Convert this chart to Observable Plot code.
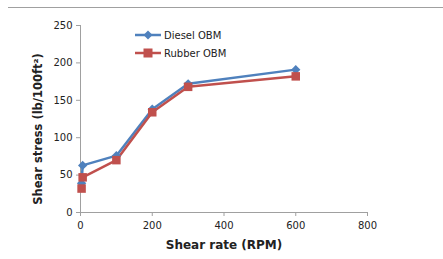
<!DOCTYPE html>
<html><head><meta charset="utf-8">
<script src="https://cdn.jsdelivr.net/npm/d3@7"></script>
<script src="https://cdn.jsdelivr.net/npm/@observablehq/plot@0.6"></script>
<style>
body{margin:0;background:#fff;}
#wrap{position:relative;width:443px;height:259px;overflow:hidden;}
#topline{position:absolute;left:8px;right:0;top:7px;height:0;border-top:1px solid #a0a0a0;}
svg{font-family:"DejaVu Sans",sans-serif;}
g[aria-label^="x-axis"] text, g[aria-label^="y-axis"] text{fill:#222;}
g[aria-label^="x-axis"] line, g[aria-label^="y-axis"] line, g[aria-label^="x-axis"] path, g[aria-label^="y-axis"] path{stroke:#a0a0a0;}
</style></head>
<body><div id="wrap"><div id="topline"></div></div>
<script>
const rpm = [3, 6, 100, 200, 300, 600];
const diesel = [39, 63, 76, 138, 172, 191];
const rubber = [32, 47, 70, 134, 168, 182];
const seriesNames = ["Diesel OBM", "Rubber OBM"];
const seriesColors = ["#4F81BD", "#C0504D"];
const seriesSymbols = ["diamond2", "square"];
const xTicks = [0, 200, 400, 600, 800];
const yTicks = [0, 50, 100, 150, 200, 250];
const xTitle = "Shear rate (RPM)";
const yTitle = "Shear stress (lb/100ft²)";

const rows = [];
[diesel, rubber].forEach((vals, s) => vals.forEach((v, i) => rows.push({series: seriesNames[s], rpm: rpm[i], value: v})));

function legend(index, scales, values, dim) {
  const g = d3.create("svg:g");
  const x0 = dim.marginLeft + 55, x1 = dim.marginLeft + 81;
  seriesNames.forEach((name, i) => {
    const y = dim.marginTop + 10 + i * 18;
    g.append("line").attr("x1", x0).attr("x2", x1).attr("y1", y).attr("y2", y)
      .attr("stroke", seriesColors[i]).attr("stroke-width", 2.5);
    const cx = (x0 + x1) / 2;
    if (i === 0) {
      g.append("path").attr("d", `M${cx},${y-4.5}L${cx+4.5},${y}L${cx},${y+4.5}L${cx-4.5},${y}Z`).attr("fill", seriesColors[i]);
    } else {
      g.append("rect").attr("x", cx - 4.5).attr("y", y - 4.5).attr("width", 9).attr("height", 9).attr("fill", seriesColors[i]);
    }
    g.append("text").attr("x", x1 + 3).attr("y", y).attr("dy", "0.35em")
      .attr("text-anchor", "start")
      .attr("font-size", 10).attr("fill", "#222").text(name);
  });
  return g.node();
}

const chart = Plot.plot({
  width: 443, height: 259,
  marginLeft: 80, marginRight: 76, marginTop: 25, marginBottom: 47,
  style: {fontSize: "10px", fontFamily: "DejaVu Sans, sans-serif", color: "#222", background: "transparent"},
  x: {domain: [0, 800], ticks: xTicks, tickSize: 4, tickPadding: 5, label: null},
  y: {domain: [0, 250], ticks: yTicks, tickSize: 4, tickPadding: 4, label: null},
  color: {domain: seriesNames, range: seriesColors},
  symbol: {domain: seriesNames, range: seriesSymbols},
  marks: [
    Plot.ruleX([0], {stroke: "#a0a0a0"}),
    Plot.ruleY([0], {stroke: "#a0a0a0"}),
    Plot.line(rows, {x: "rpm", y: "value", z: "series", stroke: "series", strokeWidth: 2.5}),
    Plot.dot(rows.filter(d => d.series === seriesNames[0]), {x: "rpm", y: "value", fill: "series", symbol: "series", r: 4.2}),
    Plot.dot(rows.filter(d => d.series === seriesNames[1]), {x: "rpm", y: "value", fill: "series", symbol: "series", r: 4.8}),
    Plot.text([xTitle], {frameAnchor: "bottom", dy: 36, fontWeight: "bold", fontSize: 12, fill: "#222"}),
    Plot.text([yTitle], {frameAnchor: "left", textAnchor: "middle", dx: -42, dy: 10, rotate: -90, fontWeight: "bold", fontSize: 11.5, fill: "#222"}),
    legend
  ]
});
document.getElementById("wrap").appendChild(chart);
</script></body></html>
